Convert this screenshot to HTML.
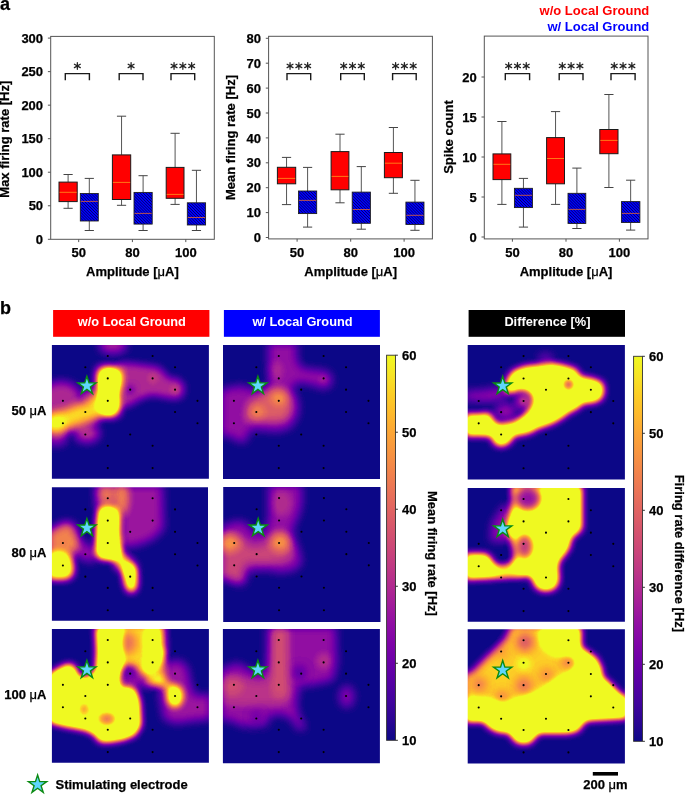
<!DOCTYPE html><html><head><meta charset="utf-8"><style>html,body{margin:0;padding:0;background:#fff;}svg{display:block;will-change:transform;font-family:'Liberation Sans', sans-serif;}</style></head><body><svg width="685" height="795" viewBox="0 0 685 795"><defs><pattern id="hatch" patternUnits="userSpaceOnUse" width="2.06" height="2.06" patternTransform="rotate(45)"><rect width="2.06" height="2.06" fill="#0000ff"/><rect y="0" width="2.06" height="0.62" fill="#000050"/></pattern><filter id="cm" x="-30" y="-30" width="260" height="220" filterUnits="userSpaceOnUse" color-interpolation-filters="sRGB"><feComponentTransfer><feFuncR type="table" tableValues="0.05 0.13 0.2 0.25 0.31 0.36 0.42 0.47 0.52 0.56 0.61 0.65 0.69 0.73 0.76 0.8 0.83 0.86 0.88 0.91 0.93 0.95 0.97 0.98 0.99 0.99 0.99 0.99 0.98 0.96 0.94 0.94 0.94 0.94 0.94 0.94 0.94 0.94 0.94 0.94 0.94 0.94 0.94 0.94 0.94 0.94 0.94 0.94 0.94 0.94 0.94 0.94 0.94 0.94 0.94 0.94 0.94 0.94 0.94 0.94 0.94 0.94 0.94 0.94 0.94 0.94 0.94 0.94 0.94 0.94 0.94 0.94 0.94 0.94 0.94 0.94 0.94 0.94 0.94 0.94 0.94 0.94 0.94 0.94 0.94 0.94 0.94 0.94 0.94 0.94 0.94"/><feFuncG type="table" tableValues="0.03 0.02 0.02 0.01 0.01 0 0 0 0.02 0.05 0.09 0.13 0.17 0.2 0.24 0.28 0.32 0.36 0.39 0.43 0.47 0.52 0.56 0.61 0.65 0.7 0.75 0.81 0.86 0.92 0.98 0.98 0.98 0.98 0.98 0.98 0.98 0.98 0.98 0.98 0.98 0.98 0.98 0.98 0.98 0.98 0.98 0.98 0.98 0.98 0.98 0.98 0.98 0.98 0.98 0.98 0.98 0.98 0.98 0.98 0.98 0.98 0.98 0.98 0.98 0.98 0.98 0.98 0.98 0.98 0.98 0.98 0.98 0.98 0.98 0.98 0.98 0.98 0.98 0.98 0.98 0.98 0.98 0.98 0.98 0.98 0.98 0.98 0.98 0.98 0.98"/><feFuncB type="table" tableValues="0.53 0.56 0.59 0.62 0.64 0.65 0.66 0.66 0.65 0.64 0.62 0.6 0.56 0.54 0.5 0.47 0.44 0.41 0.38 0.35 0.33 0.3 0.27 0.24 0.21 0.18 0.16 0.15 0.14 0.15 0.13 0.13 0.13 0.13 0.13 0.13 0.13 0.13 0.13 0.13 0.13 0.13 0.13 0.13 0.13 0.13 0.13 0.13 0.13 0.13 0.13 0.13 0.13 0.13 0.13 0.13 0.13 0.13 0.13 0.13 0.13 0.13 0.13 0.13 0.13 0.13 0.13 0.13 0.13 0.13 0.13 0.13 0.13 0.13 0.13 0.13 0.13 0.13 0.13 0.13 0.13 0.13 0.13 0.13 0.13 0.13 0.13 0.13 0.13 0.13 0.13"/><feFuncA type="table" tableValues="1 1"/></feComponentTransfer></filter><clipPath id="cp_r1c1"><rect x="0" y="0" width="157" height="133.8"/></clipPath><clipPath id="cp_r2c1"><rect x="0" y="0" width="156.1" height="133.6"/></clipPath><clipPath id="cp_r3c1"><rect x="0" y="0" width="157" height="133.7"/></clipPath><clipPath id="cp_r1c2"><rect x="0" y="0" width="157" height="133.9"/></clipPath><clipPath id="cp_r2c2"><rect x="0" y="0" width="157.3" height="134.8"/></clipPath><clipPath id="cp_r3c2"><rect x="0" y="0" width="157" height="134.2"/></clipPath><clipPath id="cp_r1c3"><rect x="0" y="0" width="157.2" height="134.3"/></clipPath><clipPath id="cp_r2c3"><rect x="0" y="0" width="157.2" height="133.7"/></clipPath><clipPath id="cp_r3c3"><rect x="0" y="0" width="157.2" height="134.3"/></clipPath><filter id="bl3" x="-60" y="-60" width="300" height="260" filterUnits="userSpaceOnUse" color-interpolation-filters="sRGB"><feGaussianBlur stdDeviation="3"/></filter><filter id="bl3_5" x="-60" y="-60" width="300" height="260" filterUnits="userSpaceOnUse" color-interpolation-filters="sRGB"><feGaussianBlur stdDeviation="3.5"/></filter><filter id="bl4" x="-60" y="-60" width="300" height="260" filterUnits="userSpaceOnUse" color-interpolation-filters="sRGB"><feGaussianBlur stdDeviation="4"/></filter><filter id="bl4_5" x="-60" y="-60" width="300" height="260" filterUnits="userSpaceOnUse" color-interpolation-filters="sRGB"><feGaussianBlur stdDeviation="4.5"/></filter><filter id="bl5" x="-60" y="-60" width="300" height="260" filterUnits="userSpaceOnUse" color-interpolation-filters="sRGB"><feGaussianBlur stdDeviation="5"/></filter><filter id="bl6" x="-60" y="-60" width="300" height="260" filterUnits="userSpaceOnUse" color-interpolation-filters="sRGB"><feGaussianBlur stdDeviation="6"/></filter><linearGradient id="cbg" x1="0" y1="0" x2="0" y2="1"><stop offset="0" stop-color="rgb(240,249,33)"/><stop offset="0.05" stop-color="rgb(247,228,37)"/><stop offset="0.1" stop-color="rgb(252,206,37)"/><stop offset="0.15" stop-color="rgb(254,186,44)"/><stop offset="0.2" stop-color="rgb(252,166,54)"/><stop offset="0.25" stop-color="rgb(248,149,64)"/><stop offset="0.3" stop-color="rgb(242,132,75)"/><stop offset="0.35" stop-color="rgb(234,116,87)"/><stop offset="0.4" stop-color="rgb(225,100,98)"/><stop offset="0.45" stop-color="rgb(214,85,109)"/><stop offset="0.5" stop-color="rgb(204,71,120)"/><stop offset="0.55" stop-color="rgb(191,57,132)"/><stop offset="0.6" stop-color="rgb(177,42,144)"/><stop offset="0.65" stop-color="rgb(161,27,155)"/><stop offset="0.7" stop-color="rgb(143,13,164)"/><stop offset="0.75" stop-color="rgb(126,3,168)"/><stop offset="0.8" stop-color="rgb(106,0,168)"/><stop offset="0.85" stop-color="rgb(86,1,164)"/><stop offset="0.9" stop-color="rgb(65,4,157)"/><stop offset="0.95" stop-color="rgb(42,5,147)"/><stop offset="1" stop-color="rgb(13,8,135)"/></linearGradient></defs><text x="0.1" y="10.2" font-size="18" font-weight="bold" text-anchor="start" fill="#000" stroke="#000" stroke-width="0.25">a</text>
<line x1="68.1" y1="174.5" x2="68.1" y2="182.1" stroke="#555" stroke-width="1"/>
<line x1="68.1" y1="201.6" x2="68.1" y2="208.3" stroke="#555" stroke-width="1"/>
<line x1="63.5" y1="174.5" x2="72.7" y2="174.5" stroke="#444" stroke-width="1"/>
<line x1="63.5" y1="208.3" x2="72.7" y2="208.3" stroke="#444" stroke-width="1"/>
<rect x="59" y="182.1" width="18.2" height="19.5" fill="#ff0000" stroke="#1a1a1a" stroke-width="1"/>
<line x1="59.5" y1="192.3" x2="76.7" y2="192.3" stroke="#ff8c1a" stroke-width="0.85"/>
<line x1="89.3" y1="178.4" x2="89.3" y2="193.5" stroke="#555" stroke-width="1"/>
<line x1="89.3" y1="221" x2="89.3" y2="230.5" stroke="#555" stroke-width="1"/>
<line x1="84.7" y1="178.4" x2="93.9" y2="178.4" stroke="#444" stroke-width="1"/>
<line x1="84.7" y1="230.5" x2="93.9" y2="230.5" stroke="#444" stroke-width="1"/>
<rect x="80.3" y="193.5" width="18" height="27.5" fill="url(#hatch)" stroke="#1a1a1a" stroke-width="0.85"/>
<line x1="80.8" y1="201.4" x2="97.8" y2="201.4" stroke="#d8603c" stroke-width="0.85"/>
<line x1="121.55" y1="116.2" x2="121.55" y2="154.9" stroke="#555" stroke-width="1"/>
<line x1="121.55" y1="199.5" x2="121.55" y2="205.3" stroke="#555" stroke-width="1"/>
<line x1="116.95" y1="116.2" x2="126.15" y2="116.2" stroke="#444" stroke-width="1"/>
<line x1="116.95" y1="205.3" x2="126.15" y2="205.3" stroke="#444" stroke-width="1"/>
<rect x="112.4" y="154.9" width="18.3" height="44.6" fill="#ff0000" stroke="#1a1a1a" stroke-width="1"/>
<line x1="112.9" y1="182.4" x2="130.2" y2="182.4" stroke="#ff8c1a" stroke-width="0.85"/>
<line x1="143.1" y1="175.7" x2="143.1" y2="192.4" stroke="#555" stroke-width="1"/>
<line x1="143.1" y1="224.1" x2="143.1" y2="230.5" stroke="#555" stroke-width="1"/>
<line x1="138.5" y1="175.7" x2="147.7" y2="175.7" stroke="#444" stroke-width="1"/>
<line x1="138.5" y1="230.5" x2="147.7" y2="230.5" stroke="#444" stroke-width="1"/>
<rect x="134" y="192.4" width="18.2" height="31.7" fill="url(#hatch)" stroke="#1a1a1a" stroke-width="0.85"/>
<line x1="134.5" y1="213.4" x2="151.7" y2="213.4" stroke="#d8603c" stroke-width="0.85"/>
<line x1="175.1" y1="133.3" x2="175.1" y2="167.4" stroke="#555" stroke-width="1"/>
<line x1="175.1" y1="198.3" x2="175.1" y2="204.4" stroke="#555" stroke-width="1"/>
<line x1="170.5" y1="133.3" x2="179.7" y2="133.3" stroke="#444" stroke-width="1"/>
<line x1="170.5" y1="204.4" x2="179.7" y2="204.4" stroke="#444" stroke-width="1"/>
<rect x="166.2" y="167.4" width="17.8" height="30.9" fill="#ff0000" stroke="#1a1a1a" stroke-width="1"/>
<line x1="166.7" y1="194.4" x2="183.5" y2="194.4" stroke="#ff8c1a" stroke-width="0.85"/>
<line x1="196.45" y1="170.3" x2="196.45" y2="202.8" stroke="#555" stroke-width="1"/>
<line x1="196.45" y1="225" x2="196.45" y2="230.5" stroke="#555" stroke-width="1"/>
<line x1="191.85" y1="170.3" x2="201.05" y2="170.3" stroke="#444" stroke-width="1"/>
<line x1="191.85" y1="230.5" x2="201.05" y2="230.5" stroke="#444" stroke-width="1"/>
<rect x="187.3" y="202.8" width="18.3" height="22.2" fill="url(#hatch)" stroke="#1a1a1a" stroke-width="0.85"/>
<line x1="187.8" y1="217.5" x2="205.1" y2="217.5" stroke="#d8603c" stroke-width="0.85"/>
<rect x="50.7" y="36.4" width="163.6" height="202.9" fill="none" stroke="#555" stroke-width="1"/>
<line x1="47.9" y1="239.3" x2="50.7" y2="239.3" stroke="#555" stroke-width="1"/>
<text x="43.1" y="243.9" font-size="13" font-weight="bold" text-anchor="end" fill="#000" stroke="#000" stroke-width="0.25">0</text>
<line x1="47.9" y1="205.77" x2="50.7" y2="205.77" stroke="#555" stroke-width="1"/>
<text x="43.1" y="210.37" font-size="13" font-weight="bold" text-anchor="end" fill="#000" stroke="#000" stroke-width="0.25">50</text>
<line x1="47.9" y1="172.23" x2="50.7" y2="172.23" stroke="#555" stroke-width="1"/>
<text x="43.1" y="176.83" font-size="13" font-weight="bold" text-anchor="end" fill="#000" stroke="#000" stroke-width="0.25">100</text>
<line x1="47.9" y1="138.7" x2="50.7" y2="138.7" stroke="#555" stroke-width="1"/>
<text x="43.1" y="143.3" font-size="13" font-weight="bold" text-anchor="end" fill="#000" stroke="#000" stroke-width="0.25">150</text>
<line x1="47.9" y1="105.17" x2="50.7" y2="105.17" stroke="#555" stroke-width="1"/>
<text x="43.1" y="109.77" font-size="13" font-weight="bold" text-anchor="end" fill="#000" stroke="#000" stroke-width="0.25">200</text>
<line x1="47.9" y1="71.63" x2="50.7" y2="71.63" stroke="#555" stroke-width="1"/>
<text x="43.1" y="76.23" font-size="13" font-weight="bold" text-anchor="end" fill="#000" stroke="#000" stroke-width="0.25">250</text>
<line x1="47.9" y1="38.1" x2="50.7" y2="38.1" stroke="#555" stroke-width="1"/>
<text x="43.1" y="42.7" font-size="13" font-weight="bold" text-anchor="end" fill="#000" stroke="#000" stroke-width="0.25">300</text>
<line x1="78.7" y1="239.3" x2="78.7" y2="242.1" stroke="#555" stroke-width="1"/>
<text x="78.7" y="257.2" font-size="13" font-weight="bold" text-anchor="middle" fill="#000" stroke="#000" stroke-width="0.25">50</text>
<line x1="132.4" y1="239.3" x2="132.4" y2="242.1" stroke="#555" stroke-width="1"/>
<text x="132.4" y="257.2" font-size="13" font-weight="bold" text-anchor="middle" fill="#000" stroke="#000" stroke-width="0.25">80</text>
<line x1="185.8" y1="239.3" x2="185.8" y2="242.1" stroke="#555" stroke-width="1"/>
<text x="185.8" y="257.2" font-size="13" font-weight="bold" text-anchor="middle" fill="#000" stroke="#000" stroke-width="0.25">100</text>
<text x="132.4" y="275.5" font-size="13" font-weight="bold" text-anchor="middle" fill="#000" stroke="#000" stroke-width="0.25">Amplitude [<tspan font-weight="normal">&#956;</tspan>A]</text>
<text x="9.4" y="139.2" font-size="13" font-weight="bold" text-anchor="middle" fill="#000" stroke="#000" stroke-width="0.25" transform="rotate(-90 9.4 139.2)">Max firing rate [Hz]</text>
<path d="M65.3 80.3V73.6H89.4V80.3" fill="none" stroke="#1a1a1a" stroke-width="1.4"/>
<path d="M77.35 62.5L77.35 69.3M74.41 64.2L80.29 67.6M74.41 67.6L80.29 64.2" stroke="#222" stroke-width="1.25" stroke-linecap="round"/>
<path d="M119.2 80.3V73.6H143V80.3" fill="none" stroke="#1a1a1a" stroke-width="1.4"/>
<path d="M131.1 62.5L131.1 69.3M128.16 64.2L134.04 67.6M128.16 67.6L134.04 64.2" stroke="#222" stroke-width="1.25" stroke-linecap="round"/>
<path d="M171 80.3V73.6H194.7V80.3" fill="none" stroke="#1a1a1a" stroke-width="1.4"/>
<path d="M174.05 62.5L174.05 69.3M171.11 64.2L176.99 67.6M171.11 67.6L176.99 64.2" stroke="#222" stroke-width="1.25" stroke-linecap="round"/>
<path d="M182.85 62.5L182.85 69.3M179.91 64.2L185.79 67.6M179.91 67.6L185.79 64.2" stroke="#222" stroke-width="1.25" stroke-linecap="round"/>
<path d="M191.65 62.5L191.65 69.3M188.71 64.2L194.59 67.6M188.71 67.6L194.59 64.2" stroke="#222" stroke-width="1.25" stroke-linecap="round"/>
<line x1="286.55" y1="157.4" x2="286.55" y2="167.3" stroke="#555" stroke-width="1"/>
<line x1="286.55" y1="183.8" x2="286.55" y2="204.6" stroke="#555" stroke-width="1"/>
<line x1="281.95" y1="157.4" x2="291.15" y2="157.4" stroke="#444" stroke-width="1"/>
<line x1="281.95" y1="204.6" x2="291.15" y2="204.6" stroke="#444" stroke-width="1"/>
<rect x="277.4" y="167.3" width="18.3" height="16.5" fill="#ff0000" stroke="#1a1a1a" stroke-width="1"/>
<line x1="277.9" y1="178.4" x2="295.2" y2="178.4" stroke="#ff8c1a" stroke-width="0.85"/>
<line x1="307.6" y1="167.4" x2="307.6" y2="191" stroke="#555" stroke-width="1"/>
<line x1="307.6" y1="213.6" x2="307.6" y2="227.1" stroke="#555" stroke-width="1"/>
<line x1="303" y1="167.4" x2="312.2" y2="167.4" stroke="#444" stroke-width="1"/>
<line x1="303" y1="227.1" x2="312.2" y2="227.1" stroke="#444" stroke-width="1"/>
<rect x="298.5" y="191" width="18.2" height="22.6" fill="url(#hatch)" stroke="#1a1a1a" stroke-width="0.85"/>
<line x1="299" y1="200.4" x2="316.2" y2="200.4" stroke="#d8603c" stroke-width="0.85"/>
<line x1="340" y1="134.2" x2="340" y2="151.6" stroke="#555" stroke-width="1"/>
<line x1="340" y1="189.8" x2="340" y2="202.8" stroke="#555" stroke-width="1"/>
<line x1="335.4" y1="134.2" x2="344.6" y2="134.2" stroke="#444" stroke-width="1"/>
<line x1="335.4" y1="202.8" x2="344.6" y2="202.8" stroke="#444" stroke-width="1"/>
<rect x="331.1" y="151.6" width="17.8" height="38.2" fill="#ff0000" stroke="#1a1a1a" stroke-width="1"/>
<line x1="331.6" y1="176.4" x2="348.4" y2="176.4" stroke="#ff8c1a" stroke-width="0.85"/>
<line x1="361.3" y1="166.6" x2="361.3" y2="192.1" stroke="#555" stroke-width="1"/>
<line x1="361.3" y1="223.3" x2="361.3" y2="229.2" stroke="#555" stroke-width="1"/>
<line x1="356.7" y1="166.6" x2="365.9" y2="166.6" stroke="#444" stroke-width="1"/>
<line x1="356.7" y1="229.2" x2="365.9" y2="229.2" stroke="#444" stroke-width="1"/>
<rect x="352.2" y="192.1" width="18.2" height="31.2" fill="url(#hatch)" stroke="#1a1a1a" stroke-width="0.85"/>
<line x1="352.7" y1="209.5" x2="369.9" y2="209.5" stroke="#d8603c" stroke-width="0.85"/>
<line x1="393.4" y1="127.5" x2="393.4" y2="152.5" stroke="#555" stroke-width="1"/>
<line x1="393.4" y1="177.7" x2="393.4" y2="193.3" stroke="#555" stroke-width="1"/>
<line x1="388.8" y1="127.5" x2="398" y2="127.5" stroke="#444" stroke-width="1"/>
<line x1="388.8" y1="193.3" x2="398" y2="193.3" stroke="#444" stroke-width="1"/>
<rect x="384.4" y="152.5" width="18" height="25.2" fill="#ff0000" stroke="#1a1a1a" stroke-width="1"/>
<line x1="384.9" y1="163.2" x2="401.9" y2="163.2" stroke="#ff8c1a" stroke-width="0.85"/>
<line x1="414.95" y1="180.3" x2="414.95" y2="202.1" stroke="#555" stroke-width="1"/>
<line x1="414.95" y1="224.5" x2="414.95" y2="230.3" stroke="#555" stroke-width="1"/>
<line x1="410.35" y1="180.3" x2="419.55" y2="180.3" stroke="#444" stroke-width="1"/>
<line x1="410.35" y1="230.3" x2="419.55" y2="230.3" stroke="#444" stroke-width="1"/>
<rect x="405.9" y="202.1" width="18.1" height="22.4" fill="url(#hatch)" stroke="#1a1a1a" stroke-width="0.85"/>
<line x1="406.4" y1="215.3" x2="423.5" y2="215.3" stroke="#d8603c" stroke-width="0.85"/>
<rect x="268.6" y="36.3" width="163.8" height="202.6" fill="none" stroke="#555" stroke-width="1"/>
<line x1="265.8" y1="237.5" x2="268.6" y2="237.5" stroke="#555" stroke-width="1"/>
<text x="261" y="242.1" font-size="13" font-weight="bold" text-anchor="end" fill="#000" stroke="#000" stroke-width="0.25">0</text>
<line x1="265.8" y1="212.6" x2="268.6" y2="212.6" stroke="#555" stroke-width="1"/>
<text x="261" y="217.2" font-size="13" font-weight="bold" text-anchor="end" fill="#000" stroke="#000" stroke-width="0.25">10</text>
<line x1="265.8" y1="187.7" x2="268.6" y2="187.7" stroke="#555" stroke-width="1"/>
<text x="261" y="192.3" font-size="13" font-weight="bold" text-anchor="end" fill="#000" stroke="#000" stroke-width="0.25">20</text>
<line x1="265.8" y1="162.8" x2="268.6" y2="162.8" stroke="#555" stroke-width="1"/>
<text x="261" y="167.4" font-size="13" font-weight="bold" text-anchor="end" fill="#000" stroke="#000" stroke-width="0.25">30</text>
<line x1="265.8" y1="137.9" x2="268.6" y2="137.9" stroke="#555" stroke-width="1"/>
<text x="261" y="142.5" font-size="13" font-weight="bold" text-anchor="end" fill="#000" stroke="#000" stroke-width="0.25">40</text>
<line x1="265.8" y1="113" x2="268.6" y2="113" stroke="#555" stroke-width="1"/>
<text x="261" y="117.6" font-size="13" font-weight="bold" text-anchor="end" fill="#000" stroke="#000" stroke-width="0.25">50</text>
<line x1="265.8" y1="88.1" x2="268.6" y2="88.1" stroke="#555" stroke-width="1"/>
<text x="261" y="92.7" font-size="13" font-weight="bold" text-anchor="end" fill="#000" stroke="#000" stroke-width="0.25">60</text>
<line x1="265.8" y1="63.2" x2="268.6" y2="63.2" stroke="#555" stroke-width="1"/>
<text x="261" y="67.8" font-size="13" font-weight="bold" text-anchor="end" fill="#000" stroke="#000" stroke-width="0.25">70</text>
<line x1="265.8" y1="38.3" x2="268.6" y2="38.3" stroke="#555" stroke-width="1"/>
<text x="261" y="42.9" font-size="13" font-weight="bold" text-anchor="end" fill="#000" stroke="#000" stroke-width="0.25">80</text>
<line x1="297.1" y1="238.9" x2="297.1" y2="241.7" stroke="#555" stroke-width="1"/>
<text x="297.1" y="257.2" font-size="13" font-weight="bold" text-anchor="middle" fill="#000" stroke="#000" stroke-width="0.25">50</text>
<line x1="350.7" y1="238.9" x2="350.7" y2="241.7" stroke="#555" stroke-width="1"/>
<text x="350.7" y="257.2" font-size="13" font-weight="bold" text-anchor="middle" fill="#000" stroke="#000" stroke-width="0.25">80</text>
<line x1="404.1" y1="238.9" x2="404.1" y2="241.7" stroke="#555" stroke-width="1"/>
<text x="404.1" y="257.2" font-size="13" font-weight="bold" text-anchor="middle" fill="#000" stroke="#000" stroke-width="0.25">100</text>
<text x="350.7" y="275.5" font-size="13" font-weight="bold" text-anchor="middle" fill="#000" stroke="#000" stroke-width="0.25">Amplitude [<tspan font-weight="normal">&#956;</tspan>A]</text>
<text x="234.8" y="137.5" font-size="13" font-weight="bold" text-anchor="middle" fill="#000" stroke="#000" stroke-width="0.25" transform="rotate(-90 234.8 137.5)">Mean firing rate [Hz]</text>
<path d="M287 80.3V73.6H310.7V80.3" fill="none" stroke="#1a1a1a" stroke-width="1.4"/>
<path d="M290.05 62.5L290.05 69.3M287.11 64.2L292.99 67.6M287.11 67.6L292.99 64.2" stroke="#222" stroke-width="1.25" stroke-linecap="round"/>
<path d="M298.85 62.5L298.85 69.3M295.91 64.2L301.79 67.6M295.91 67.6L301.79 64.2" stroke="#222" stroke-width="1.25" stroke-linecap="round"/>
<path d="M307.65 62.5L307.65 69.3M304.71 64.2L310.59 67.6M304.71 67.6L310.59 64.2" stroke="#222" stroke-width="1.25" stroke-linecap="round"/>
<path d="M340.7 80.3V73.6H364.3V80.3" fill="none" stroke="#1a1a1a" stroke-width="1.4"/>
<path d="M343.7 62.5L343.7 69.3M340.76 64.2L346.64 67.6M340.76 67.6L346.64 64.2" stroke="#222" stroke-width="1.25" stroke-linecap="round"/>
<path d="M352.5 62.5L352.5 69.3M349.56 64.2L355.44 67.6M349.56 67.6L355.44 64.2" stroke="#222" stroke-width="1.25" stroke-linecap="round"/>
<path d="M361.3 62.5L361.3 69.3M358.36 64.2L364.24 67.6M358.36 67.6L364.24 64.2" stroke="#222" stroke-width="1.25" stroke-linecap="round"/>
<path d="M392.6 80.3V73.6H416.2V80.3" fill="none" stroke="#1a1a1a" stroke-width="1.4"/>
<path d="M395.6 62.5L395.6 69.3M392.66 64.2L398.54 67.6M392.66 67.6L398.54 64.2" stroke="#222" stroke-width="1.25" stroke-linecap="round"/>
<path d="M404.4 62.5L404.4 69.3M401.46 64.2L407.34 67.6M401.46 67.6L407.34 64.2" stroke="#222" stroke-width="1.25" stroke-linecap="round"/>
<path d="M413.2 62.5L413.2 69.3M410.26 64.2L416.14 67.6M410.26 67.6L416.14 64.2" stroke="#222" stroke-width="1.25" stroke-linecap="round"/>
<line x1="501.9" y1="121.5" x2="501.9" y2="153.9" stroke="#555" stroke-width="1"/>
<line x1="501.9" y1="179.6" x2="501.9" y2="204.4" stroke="#555" stroke-width="1"/>
<line x1="497.3" y1="121.5" x2="506.5" y2="121.5" stroke="#444" stroke-width="1"/>
<line x1="497.3" y1="204.4" x2="506.5" y2="204.4" stroke="#444" stroke-width="1"/>
<rect x="493" y="153.9" width="17.8" height="25.7" fill="#ff0000" stroke="#1a1a1a" stroke-width="1"/>
<line x1="493.5" y1="164.3" x2="510.3" y2="164.3" stroke="#ff8c1a" stroke-width="0.85"/>
<line x1="523.45" y1="178.4" x2="523.45" y2="188.3" stroke="#555" stroke-width="1"/>
<line x1="523.45" y1="207.6" x2="523.45" y2="227.1" stroke="#555" stroke-width="1"/>
<line x1="518.85" y1="178.4" x2="528.05" y2="178.4" stroke="#444" stroke-width="1"/>
<line x1="518.85" y1="227.1" x2="528.05" y2="227.1" stroke="#444" stroke-width="1"/>
<rect x="514.4" y="188.3" width="18.1" height="19.3" fill="url(#hatch)" stroke="#1a1a1a" stroke-width="0.85"/>
<line x1="514.9" y1="195.3" x2="532" y2="195.3" stroke="#d8603c" stroke-width="0.85"/>
<line x1="555.55" y1="111.6" x2="555.55" y2="137.6" stroke="#555" stroke-width="1"/>
<line x1="555.55" y1="183.8" x2="555.55" y2="204.4" stroke="#555" stroke-width="1"/>
<line x1="550.95" y1="111.6" x2="560.15" y2="111.6" stroke="#444" stroke-width="1"/>
<line x1="550.95" y1="204.4" x2="560.15" y2="204.4" stroke="#444" stroke-width="1"/>
<rect x="546.6" y="137.6" width="17.9" height="46.2" fill="#ff0000" stroke="#1a1a1a" stroke-width="1"/>
<line x1="547.1" y1="158.5" x2="564" y2="158.5" stroke="#ff8c1a" stroke-width="0.85"/>
<line x1="576.9" y1="168.1" x2="576.9" y2="193.3" stroke="#555" stroke-width="1"/>
<line x1="576.9" y1="223.5" x2="576.9" y2="228.5" stroke="#555" stroke-width="1"/>
<line x1="572.3" y1="168.1" x2="581.5" y2="168.1" stroke="#444" stroke-width="1"/>
<line x1="572.3" y1="228.5" x2="581.5" y2="228.5" stroke="#444" stroke-width="1"/>
<rect x="568" y="193.3" width="17.8" height="30.2" fill="url(#hatch)" stroke="#1a1a1a" stroke-width="0.85"/>
<line x1="568.5" y1="209.4" x2="585.3" y2="209.4" stroke="#d8603c" stroke-width="0.85"/>
<line x1="608.9" y1="94.5" x2="608.9" y2="129.5" stroke="#555" stroke-width="1"/>
<line x1="608.9" y1="153.7" x2="608.9" y2="187.5" stroke="#555" stroke-width="1"/>
<line x1="604.3" y1="94.5" x2="613.5" y2="94.5" stroke="#444" stroke-width="1"/>
<line x1="604.3" y1="187.5" x2="613.5" y2="187.5" stroke="#444" stroke-width="1"/>
<rect x="599.8" y="129.5" width="18.2" height="24.2" fill="#ff0000" stroke="#1a1a1a" stroke-width="1"/>
<line x1="600.3" y1="140.4" x2="617.5" y2="140.4" stroke="#ff8c1a" stroke-width="0.85"/>
<line x1="630.65" y1="180.2" x2="630.65" y2="201.6" stroke="#555" stroke-width="1"/>
<line x1="630.65" y1="222.5" x2="630.65" y2="230.1" stroke="#555" stroke-width="1"/>
<line x1="626.05" y1="180.2" x2="635.25" y2="180.2" stroke="#444" stroke-width="1"/>
<line x1="626.05" y1="230.1" x2="635.25" y2="230.1" stroke="#444" stroke-width="1"/>
<rect x="621.4" y="201.6" width="18.5" height="20.9" fill="url(#hatch)" stroke="#1a1a1a" stroke-width="0.85"/>
<line x1="621.9" y1="213.4" x2="639.4" y2="213.4" stroke="#d8603c" stroke-width="0.85"/>
<rect x="484.3" y="36.1" width="163.7" height="202.8" fill="none" stroke="#555" stroke-width="1"/>
<line x1="481.5" y1="237" x2="484.3" y2="237" stroke="#555" stroke-width="1"/>
<text x="476.7" y="241.6" font-size="13" font-weight="bold" text-anchor="end" fill="#000" stroke="#000" stroke-width="0.25">0</text>
<line x1="481.5" y1="197" x2="484.3" y2="197" stroke="#555" stroke-width="1"/>
<text x="476.7" y="201.6" font-size="13" font-weight="bold" text-anchor="end" fill="#000" stroke="#000" stroke-width="0.25">5</text>
<line x1="481.5" y1="157" x2="484.3" y2="157" stroke="#555" stroke-width="1"/>
<text x="476.7" y="161.6" font-size="13" font-weight="bold" text-anchor="end" fill="#000" stroke="#000" stroke-width="0.25">10</text>
<line x1="481.5" y1="117" x2="484.3" y2="117" stroke="#555" stroke-width="1"/>
<text x="476.7" y="121.6" font-size="13" font-weight="bold" text-anchor="end" fill="#000" stroke="#000" stroke-width="0.25">15</text>
<line x1="481.5" y1="77" x2="484.3" y2="77" stroke="#555" stroke-width="1"/>
<text x="476.7" y="81.6" font-size="13" font-weight="bold" text-anchor="end" fill="#000" stroke="#000" stroke-width="0.25">20</text>
<line x1="512.4" y1="238.9" x2="512.4" y2="241.7" stroke="#555" stroke-width="1"/>
<text x="512.4" y="257.2" font-size="13" font-weight="bold" text-anchor="middle" fill="#000" stroke="#000" stroke-width="0.25">50</text>
<line x1="566" y1="238.9" x2="566" y2="241.7" stroke="#555" stroke-width="1"/>
<text x="566" y="257.2" font-size="13" font-weight="bold" text-anchor="middle" fill="#000" stroke="#000" stroke-width="0.25">80</text>
<line x1="619.4" y1="238.9" x2="619.4" y2="241.7" stroke="#555" stroke-width="1"/>
<text x="619.4" y="257.2" font-size="13" font-weight="bold" text-anchor="middle" fill="#000" stroke="#000" stroke-width="0.25">100</text>
<text x="566" y="275.5" font-size="13" font-weight="bold" text-anchor="middle" fill="#000" stroke="#000" stroke-width="0.25">Amplitude [<tspan font-weight="normal">&#956;</tspan>A]</text>
<text x="453" y="137" font-size="13" font-weight="bold" text-anchor="middle" fill="#000" stroke="#000" stroke-width="0.25" transform="rotate(-90 453 137)">Spike count</text>
<path d="M505.3 80.3V73.6H529.6V80.3" fill="none" stroke="#1a1a1a" stroke-width="1.4"/>
<path d="M508.65 62.5L508.65 69.3M505.71 64.2L511.59 67.6M505.71 67.6L511.59 64.2" stroke="#222" stroke-width="1.25" stroke-linecap="round"/>
<path d="M517.45 62.5L517.45 69.3M514.51 64.2L520.39 67.6M514.51 67.6L520.39 64.2" stroke="#222" stroke-width="1.25" stroke-linecap="round"/>
<path d="M526.25 62.5L526.25 69.3M523.31 64.2L529.19 67.6M523.31 67.6L529.19 64.2" stroke="#222" stroke-width="1.25" stroke-linecap="round"/>
<path d="M559.2 80.3V73.6H583V80.3" fill="none" stroke="#1a1a1a" stroke-width="1.4"/>
<path d="M562.3 62.5L562.3 69.3M559.36 64.2L565.24 67.6M559.36 67.6L565.24 64.2" stroke="#222" stroke-width="1.25" stroke-linecap="round"/>
<path d="M571.1 62.5L571.1 69.3M568.16 64.2L574.04 67.6M568.16 67.6L574.04 64.2" stroke="#222" stroke-width="1.25" stroke-linecap="round"/>
<path d="M579.9 62.5L579.9 69.3M576.96 64.2L582.84 67.6M576.96 67.6L582.84 64.2" stroke="#222" stroke-width="1.25" stroke-linecap="round"/>
<path d="M611 80.3V73.6H635.1V80.3" fill="none" stroke="#1a1a1a" stroke-width="1.4"/>
<path d="M614.25 62.5L614.25 69.3M611.31 64.2L617.19 67.6M611.31 67.6L617.19 64.2" stroke="#222" stroke-width="1.25" stroke-linecap="round"/>
<path d="M623.05 62.5L623.05 69.3M620.11 64.2L625.99 67.6M620.11 67.6L625.99 64.2" stroke="#222" stroke-width="1.25" stroke-linecap="round"/>
<path d="M631.85 62.5L631.85 69.3M628.91 64.2L634.79 67.6M628.91 67.6L634.79 64.2" stroke="#222" stroke-width="1.25" stroke-linecap="round"/>
<text x="649.3" y="15" font-size="13" font-weight="bold" text-anchor="end" fill="#ff0000" stroke="#ff0000" stroke-width="0">w/o Local Ground</text>
<text x="649.3" y="31.2" font-size="13" font-weight="bold" text-anchor="end" fill="#0000ff" stroke="#0000ff" stroke-width="0">w/ Local Ground</text>
<text x="0" y="314.3" font-size="18" font-weight="bold" text-anchor="start" fill="#000" stroke="#000" stroke-width="0.25">b</text>
<rect x="53.1" y="310" width="156.3" height="26.8" fill="#ff0000"/>
<text x="131.85" y="326.3" font-size="12.8" font-weight="bold" text-anchor="middle" fill="#fff" stroke="#fff" stroke-width="0">w/o Local Ground</text>
<rect x="223.9" y="310" width="156" height="26.8" fill="#0000ff"/>
<text x="302.5" y="326.3" font-size="12.8" font-weight="bold" text-anchor="middle" fill="#fff" stroke="#fff" stroke-width="0">w/ Local Ground</text>
<rect x="468.6" y="310" width="156.4" height="26.8" fill="#000000"/>
<text x="547.4" y="326.3" font-size="12.8" font-weight="bold" text-anchor="middle" fill="#fff" stroke="#fff" stroke-width="0">Difference [%]</text>
<g transform="translate(51.9 345)"><g clip-path="url(#cp_r1c1)"><g filter="url(#cm)"><rect x="-30" y="-30" width="217" height="193.8" fill="#000"/><ellipse cx="61" cy="0" rx="13" ry="8" fill="#fff" fill-opacity="0.12" filter="url(#bl4)"/><polygon points="66,18 80,18.5 95,20.5 106,22 112,27 116,33 126,34 132,40 131,51 123,54 112,52 100,50 88,54 80,59 70,63" fill="#fff" fill-opacity="0.13" filter="url(#bl3_5)"/><ellipse cx="101" cy="33.5" rx="5" ry="5" fill="#fff" fill-opacity="0.04" filter="url(#bl3)"/><ellipse cx="123.5" cy="44.5" rx="5" ry="5" fill="#fff" fill-opacity="0.04" filter="url(#bl3)"/><ellipse cx="78.5" cy="45" rx="4" ry="4.5" fill="#000" fill-opacity="0.5" filter="url(#bl3)"/><ellipse cx="9" cy="53" rx="20" ry="16" fill="#fff" fill-opacity="0.13" filter="url(#bl4_5)"/><ellipse cx="38" cy="50" rx="8" ry="7" fill="#fff" fill-opacity="0.1" filter="url(#bl3)"/><ellipse cx="35" cy="88" rx="12" ry="9" fill="#fff" fill-opacity="0.14" filter="url(#bl4)"/><ellipse cx="4" cy="93" rx="11" ry="7" fill="#fff" fill-opacity="0.1" filter="url(#bl4)"/><polygon points="46,51 38,54 31.4,57 25,60 17.6,64.4 10,66.6 -8,67.8 -8,87.5 10,88.8 18.9,83.8 25.2,81.5 31.4,78.7 41.5,76.2 47.8,75" fill="#fff" fill-opacity="0.31" filter="url(#bl4_5)"/><ellipse cx="4" cy="77" rx="10" ry="7" fill="#fff" fill-opacity="0.08" filter="url(#bl4)"/><polygon points="48.5,24.5 66,24.5 67.3,28 67.3,38 65,46 65,52 66,60 65,67 61,69 50,69 47.8,66 47.8,28" fill="#fff" fill-opacity="0.83" filter="url(#bl5)"/></g></g><circle cx="55.86" cy="11" r="1.05" fill="#000"/><circle cx="100.72" cy="11" r="1.05" fill="#000"/><circle cx="33.43" cy="22.21" r="1.05" fill="#000"/><circle cx="123.15" cy="22.21" r="1.05" fill="#000"/><circle cx="55.86" cy="33.42" r="1.05" fill="#000"/><circle cx="100.72" cy="33.42" r="1.05" fill="#000"/><circle cx="78.29" cy="44.63" r="1.05" fill="#000"/><circle cx="123.15" cy="44.63" r="1.05" fill="#000"/><circle cx="11" cy="55.84" r="1.05" fill="#000"/><circle cx="55.86" cy="55.84" r="1.05" fill="#000"/><circle cx="145.58" cy="55.84" r="1.05" fill="#000"/><circle cx="33.43" cy="67.05" r="1.05" fill="#000"/><circle cx="123.15" cy="67.05" r="1.05" fill="#000"/><circle cx="11" cy="78.26" r="1.05" fill="#000"/><circle cx="145.58" cy="78.26" r="1.05" fill="#000"/><circle cx="33.43" cy="89.47" r="1.05" fill="#000"/><circle cx="78.29" cy="89.47" r="1.05" fill="#000"/><circle cx="55.86" cy="100.68" r="1.05" fill="#000"/><circle cx="100.72" cy="100.68" r="1.05" fill="#000"/><circle cx="55.86" cy="123.1" r="1.05" fill="#000"/><circle cx="100.72" cy="123.1" r="1.05" fill="#000"/><polygon points="35,31.2 37.16,37.83 44.13,37.83 38.49,41.93 40.64,48.57 35,44.47 29.36,48.57 31.51,41.93 25.87,37.83 32.84,37.83" fill="#5fd6fc" stroke="#0b8a12" stroke-width="1.4"/></g>
<g transform="translate(51.9 487.2)"><g clip-path="url(#cp_r2c1)"><g filter="url(#cm)"><rect x="-30" y="-30" width="216.1" height="193.6" fill="#000"/><polygon points="66.47,-2.29 110.02,-2.29 111.16,41.26 100.85,51.57 87.1,57.3 75.64,59.59 68.76,57.3 68.76,22.92" fill="#fff" fill-opacity="0.11" filter="url(#bl4_5)"/><polygon points="44.69,-2.29 74.49,-2.29 75.64,13.75 73.34,25.21 68.76,27.5 57.3,22.92 45.84,22.92" fill="#fff" fill-opacity="0.18" filter="url(#bl4)"/><ellipse cx="53.86" cy="5.73" rx="8.02" ry="9.17" fill="#fff" fill-opacity="0.05" filter="url(#bl4)"/><polygon points="-4,45 5,40 12,36 18,36 24,42 26,52 24,62 20,68 -4,68" fill="#fff" fill-opacity="0.23" filter="url(#bl4)"/><polygon points="22,50 34,56 44,62 46,72 38,74 26,70 20,62" fill="#fff" fill-opacity="0.1" filter="url(#bl4)"/><polygon points="47.5,22 55,20.5 64.5,22.5 67,30 66.5,45 68,58 68.5,66 64,71 50,71.5 45,67 45,57 46,34" fill="#fff" fill-opacity="0.6" filter="url(#bl3_5)"/><polygon points="58,65 68,65 76,72 82,78 84,86 76,87 66,79" fill="#fff" fill-opacity="0.42" filter="url(#bl4)"/><polygon points="73,80 79,78 83,83 85,92 84,101 80,105 76,103 73,96 72,87" fill="#fff" fill-opacity="0.47" filter="url(#bl3_5)"/><polygon points="-4,66 10,65 18,68 21,76 21,86 17,91 8,92 -4,91" fill="#fff" fill-opacity="0.43" filter="url(#bl3_5)"/></g></g><circle cx="55.86" cy="11" r="1.05" fill="#000"/><circle cx="100.72" cy="11" r="1.05" fill="#000"/><circle cx="33.43" cy="22.21" r="1.05" fill="#000"/><circle cx="123.15" cy="22.21" r="1.05" fill="#000"/><circle cx="55.86" cy="33.42" r="1.05" fill="#000"/><circle cx="100.72" cy="33.42" r="1.05" fill="#000"/><circle cx="78.29" cy="44.63" r="1.05" fill="#000"/><circle cx="123.15" cy="44.63" r="1.05" fill="#000"/><circle cx="11" cy="55.84" r="1.05" fill="#000"/><circle cx="55.86" cy="55.84" r="1.05" fill="#000"/><circle cx="145.58" cy="55.84" r="1.05" fill="#000"/><circle cx="33.43" cy="67.05" r="1.05" fill="#000"/><circle cx="123.15" cy="67.05" r="1.05" fill="#000"/><circle cx="11" cy="78.26" r="1.05" fill="#000"/><circle cx="145.58" cy="78.26" r="1.05" fill="#000"/><circle cx="33.43" cy="89.47" r="1.05" fill="#000"/><circle cx="78.29" cy="89.47" r="1.05" fill="#000"/><circle cx="55.86" cy="100.68" r="1.05" fill="#000"/><circle cx="100.72" cy="100.68" r="1.05" fill="#000"/><circle cx="55.86" cy="123.1" r="1.05" fill="#000"/><circle cx="100.72" cy="123.1" r="1.05" fill="#000"/><polygon points="35,31.2 37.16,37.83 44.13,37.83 38.49,41.93 40.64,48.57 35,44.47 29.36,48.57 31.51,41.93 25.87,37.83 32.84,37.83" fill="#5fd6fc" stroke="#0b8a12" stroke-width="1.4"/></g>
<g transform="translate(51.9 629)"><g clip-path="url(#cp_r3c1)"><g filter="url(#cm)"><rect x="-30" y="-30" width="217" height="193.7" fill="#000"/><polygon points="112.31,34.38 128.35,32.09 135.23,38.96 137.52,52.72 142.1,66.47 159.29,66.47 159.29,89.39 137.52,91.68 123.77,93.97 112.31,89.39 110.02,75.64 107.72,61.88 112.31,52.72" fill="#fff" fill-opacity="0.11" filter="url(#bl4_5)"/><polygon points="68,46 100,44 112,42 116,52 104,57 90,57 78,60 68,58" fill="#fff" fill-opacity="0.1" filter="url(#bl4)"/><ellipse cx="123" cy="67" rx="7.5" ry="10.5" fill="#fff" fill-opacity="0.4" filter="url(#bl3_5)"/><polygon points="-2.29,45.84 9.17,38.96 17.19,35.53 22.92,38.96 26.36,48.13 36.67,49.28 44.69,41.26 45.84,22.92 44.69,-2.29 68.76,-2.29 68.76,22.92 68.76,36.67 66.47,45.84 68.76,59.59 77.93,58.45 83.66,61.88 87.1,73.34 88.24,96.26 82.51,105.43 71.05,110.02 57.3,112.31 48.13,112.31 43.55,105.43 34.38,100.85 22.92,98.56 11.46,96.26 -2.29,92.83" fill="#fff" fill-opacity="0.57" filter="url(#bl3_5)"/><polygon points="64,-5 112,-5 113,22 110,32 104,40 96,44 88,46 84,40 78,36 72,38 68,45 64,50" fill="#fff" fill-opacity="0.31" filter="url(#bl3_5)"/><ellipse cx="101" cy="12" rx="7" ry="16" fill="#fff" fill-opacity="0.23" filter="url(#bl3_5)"/><polygon points="96,20 112,20 113,34 112,48 108,56 100,57 95,52 93,40" fill="#fff" fill-opacity="0.25" filter="url(#bl3_5)"/><polygon points="106,48 114,50 121,56 119,62 111,60 106,55" fill="#fff" fill-opacity="0.2" filter="url(#bl3_5)"/><ellipse cx="75" cy="14" rx="10" ry="11" fill="#000" fill-opacity="0.3" filter="url(#bl4_5)"/><ellipse cx="78.5" cy="44" rx="6.5" ry="6.5" fill="#000" fill-opacity="0.8" filter="url(#bl4)"/><ellipse cx="78.5" cy="44" rx="9" ry="9" fill="#fff" fill-opacity="0.05" filter="url(#bl4)"/><ellipse cx="32.09" cy="80.22" rx="7.79" ry="11" fill="#000" fill-opacity="0.7" filter="url(#bl6)"/><ellipse cx="55.01" cy="89.85" rx="12.61" ry="9.17" fill="#000" fill-opacity="0.72" filter="url(#bl6)"/></g></g><circle cx="55.86" cy="11" r="1.05" fill="#000"/><circle cx="100.72" cy="11" r="1.05" fill="#000"/><circle cx="33.43" cy="22.21" r="1.05" fill="#000"/><circle cx="123.15" cy="22.21" r="1.05" fill="#000"/><circle cx="55.86" cy="33.42" r="1.05" fill="#000"/><circle cx="100.72" cy="33.42" r="1.05" fill="#000"/><circle cx="78.29" cy="44.63" r="1.05" fill="#000"/><circle cx="123.15" cy="44.63" r="1.05" fill="#000"/><circle cx="11" cy="55.84" r="1.05" fill="#000"/><circle cx="55.86" cy="55.84" r="1.05" fill="#000"/><circle cx="145.58" cy="55.84" r="1.05" fill="#000"/><circle cx="33.43" cy="67.05" r="1.05" fill="#000"/><circle cx="123.15" cy="67.05" r="1.05" fill="#000"/><circle cx="11" cy="78.26" r="1.05" fill="#000"/><circle cx="145.58" cy="78.26" r="1.05" fill="#000"/><circle cx="33.43" cy="89.47" r="1.05" fill="#000"/><circle cx="78.29" cy="89.47" r="1.05" fill="#000"/><circle cx="55.86" cy="100.68" r="1.05" fill="#000"/><circle cx="100.72" cy="100.68" r="1.05" fill="#000"/><circle cx="55.86" cy="123.1" r="1.05" fill="#000"/><circle cx="100.72" cy="123.1" r="1.05" fill="#000"/><polygon points="35,31.2 37.16,37.83 44.13,37.83 38.49,41.93 40.64,48.57 35,44.47 29.36,48.57 31.51,41.93 25.87,37.83 32.84,37.83" fill="#5fd6fc" stroke="#0b8a12" stroke-width="1.4"/></g>
<g transform="translate(222.9 345)"><g clip-path="url(#cp_r1c2)"><g filter="url(#cm)"><rect x="-30" y="-30" width="217" height="193.9" fill="#000"/><polygon points="45.84,-2.29 73.34,-2.29 73.34,13.75 77.93,22.92 91.68,25.21 103.14,26.36 108.87,32.09 107.72,40.11 100.85,43.55 91.68,40.11 77.93,36.67 71.05,38.96 68.76,43.55 73.34,52.72 75.64,61.88 73.34,73.34 66.47,82.51 55.01,85.95 41.26,84.8 29.8,83.66 25.21,87.1 22.92,96.26 16.04,96.26 9.17,91.68 -2.29,89.39 -2.29,45.84 9.17,42.4 18.34,41.26 25.21,43.55 36.67,45.84 45.84,41.26 46.99,29.8 45.84,13.75" fill="#fff" fill-opacity="0.1" filter="url(#bl4_5)"/><ellipse cx="100.85" cy="34.38" rx="5.04" ry="5.04" fill="#fff" fill-opacity="0.03" filter="url(#bl3)"/><ellipse cx="52.03" cy="25.9" rx="8.02" ry="10.08" fill="#fff" fill-opacity="0.04" filter="url(#bl4)"/><polygon points="22,74.03 24.98,57.07 35.98,52.03 44.92,44.01 52.95,41.49 61.88,44.01 68.07,49.97 68.99,60.05 66.93,69.91 60.05,76.09 38.05,76.55 24.98,76.09" fill="#fff" fill-opacity="0.1" filter="url(#bl4)"/><ellipse cx="55.92" cy="53.17" rx="6.88" ry="6.88" fill="#fff" fill-opacity="0.09" filter="url(#bl4)"/><ellipse cx="34.38" cy="66.93" rx="7.33" ry="5.96" fill="#fff" fill-opacity="0.07" filter="url(#bl4)"/></g></g><circle cx="55.86" cy="11" r="1.05" fill="#000"/><circle cx="100.72" cy="11" r="1.05" fill="#000"/><circle cx="33.43" cy="22.21" r="1.05" fill="#000"/><circle cx="123.15" cy="22.21" r="1.05" fill="#000"/><circle cx="55.86" cy="33.42" r="1.05" fill="#000"/><circle cx="100.72" cy="33.42" r="1.05" fill="#000"/><circle cx="78.29" cy="44.63" r="1.05" fill="#000"/><circle cx="123.15" cy="44.63" r="1.05" fill="#000"/><circle cx="11" cy="55.84" r="1.05" fill="#000"/><circle cx="55.86" cy="55.84" r="1.05" fill="#000"/><circle cx="145.58" cy="55.84" r="1.05" fill="#000"/><circle cx="33.43" cy="67.05" r="1.05" fill="#000"/><circle cx="123.15" cy="67.05" r="1.05" fill="#000"/><circle cx="11" cy="78.26" r="1.05" fill="#000"/><circle cx="145.58" cy="78.26" r="1.05" fill="#000"/><circle cx="33.43" cy="89.47" r="1.05" fill="#000"/><circle cx="78.29" cy="89.47" r="1.05" fill="#000"/><circle cx="55.86" cy="100.68" r="1.05" fill="#000"/><circle cx="100.72" cy="100.68" r="1.05" fill="#000"/><circle cx="55.86" cy="123.1" r="1.05" fill="#000"/><circle cx="100.72" cy="123.1" r="1.05" fill="#000"/><polygon points="35,31.2 37.16,37.83 44.13,37.83 38.49,41.93 40.64,48.57 35,44.47 29.36,48.57 31.51,41.93 25.87,37.83 32.84,37.83" fill="#5fd6fc" stroke="#0b8a12" stroke-width="1.4"/></g>
<g transform="translate(223.2 487.1)"><g clip-path="url(#cp_r2c2)"><g filter="url(#cm)"><rect x="-30" y="-30" width="217.3" height="194.8" fill="#000"/><polygon points="45.84,-2.29 77.93,-2.29 77.93,18.34 73.34,32.09 68.76,41.26 71.05,52.72 75.64,64.18 77.93,75.64 71.05,82.51 57.3,84.8 45.84,82.51 34.38,82.51 22.92,84.8 21.77,96.26 13.75,97.41 6.88,91.68 -2.29,89.39 -2.29,40.11 13.75,34.38 22.92,36.67 29.8,45.84 41.26,45.84 45.84,32.09" fill="#fff" fill-opacity="0.1" filter="url(#bl4_5)"/><ellipse cx="58.45" cy="16.04" rx="10.31" ry="13.75" fill="#fff" fill-opacity="0.04" filter="url(#bl4)"/><polygon points="-4,50 10,46 20,52 30,60 42,56 52,47 62,48 70,56 70,68 62,75 40,77 25,76 20,82 22,92 14,96 4,95 -4,92" fill="#fff" fill-opacity="0.07" filter="url(#bl4)"/><ellipse cx="5" cy="55.5" rx="12" ry="9" fill="#fff" fill-opacity="0.11" filter="url(#bl4)"/><ellipse cx="57" cy="54" rx="10" ry="10" fill="#fff" fill-opacity="0.11" filter="url(#bl4)"/></g></g><circle cx="55.86" cy="11" r="1.05" fill="#000"/><circle cx="100.72" cy="11" r="1.05" fill="#000"/><circle cx="33.43" cy="22.21" r="1.05" fill="#000"/><circle cx="123.15" cy="22.21" r="1.05" fill="#000"/><circle cx="55.86" cy="33.42" r="1.05" fill="#000"/><circle cx="100.72" cy="33.42" r="1.05" fill="#000"/><circle cx="78.29" cy="44.63" r="1.05" fill="#000"/><circle cx="123.15" cy="44.63" r="1.05" fill="#000"/><circle cx="11" cy="55.84" r="1.05" fill="#000"/><circle cx="55.86" cy="55.84" r="1.05" fill="#000"/><circle cx="145.58" cy="55.84" r="1.05" fill="#000"/><circle cx="33.43" cy="67.05" r="1.05" fill="#000"/><circle cx="123.15" cy="67.05" r="1.05" fill="#000"/><circle cx="11" cy="78.26" r="1.05" fill="#000"/><circle cx="145.58" cy="78.26" r="1.05" fill="#000"/><circle cx="33.43" cy="89.47" r="1.05" fill="#000"/><circle cx="78.29" cy="89.47" r="1.05" fill="#000"/><circle cx="55.86" cy="100.68" r="1.05" fill="#000"/><circle cx="100.72" cy="100.68" r="1.05" fill="#000"/><circle cx="55.86" cy="123.1" r="1.05" fill="#000"/><circle cx="100.72" cy="123.1" r="1.05" fill="#000"/><polygon points="35,31.2 37.16,37.83 44.13,37.83 38.49,41.93 40.64,48.57 35,44.47 29.36,48.57 31.51,41.93 25.87,37.83 32.84,37.83" fill="#5fd6fc" stroke="#0b8a12" stroke-width="1.4"/></g>
<g transform="translate(222.9 629)"><g clip-path="url(#cp_r3c2)"><g filter="url(#cm)"><rect x="-30" y="-30" width="217" height="194.2" fill="#000"/><polygon points="44.69,-2.29 112.31,-2.29 113.45,34.38 110.02,50.42 91.68,55.01 75.64,57.3 73.34,75.64 75.64,87.1 82.51,98.56 75.64,100.85 68.76,89.39 57.3,84.8 45.84,87.1 43.55,96.26 29.8,97.41 18.34,96.26 9.17,91.68 -2.29,89.39 -2.29,41.26 13.75,34.38 22.92,38.96 36.67,45.84 43.55,38.96 44.69,22.92" fill="#fff" fill-opacity="0.1" filter="url(#bl4_5)"/><ellipse cx="100.85" cy="32.09" rx="6.88" ry="8.02" fill="#fff" fill-opacity="0.05" filter="url(#bl4)"/><ellipse cx="123.77" cy="67.61" rx="6.88" ry="10.31" fill="#fff" fill-opacity="0.09" filter="url(#bl4)"/><polygon points="48.13,-2.29 66.47,-2.29 66.93,34.38 67.61,45.84 68.76,59.59 66.47,73.34 55.01,76.78 41.26,75.64 27.5,76.78 13.75,76.78 -2.29,75.64 -2.29,49.28 11.46,45.84 25.21,50.42 36.67,52.72 46.99,48.13 46.99,22.92" fill="#fff" fill-opacity="0.05" filter="url(#bl4_5)"/><polygon points="49.28,-2.29 64.18,-2.29 64.18,34.38 65.32,68.76 49.28,68.76 48.59,34.38" fill="#fff" fill-opacity="0.04" filter="url(#bl4_5)"/><ellipse cx="9.17" cy="57.3" rx="11.46" ry="9.17" fill="#fff" fill-opacity="0.04" filter="url(#bl5)"/><ellipse cx="76.78" cy="43.55" rx="5.73" ry="6.88" fill="#000" fill-opacity="0.6" filter="url(#bl4)"/><ellipse cx="33.69" cy="88.24" rx="5.73" ry="5.73" fill="#000" fill-opacity="0.4" filter="url(#bl4)"/></g></g><circle cx="55.86" cy="11" r="1.05" fill="#000"/><circle cx="100.72" cy="11" r="1.05" fill="#000"/><circle cx="33.43" cy="22.21" r="1.05" fill="#000"/><circle cx="123.15" cy="22.21" r="1.05" fill="#000"/><circle cx="55.86" cy="33.42" r="1.05" fill="#000"/><circle cx="100.72" cy="33.42" r="1.05" fill="#000"/><circle cx="78.29" cy="44.63" r="1.05" fill="#000"/><circle cx="123.15" cy="44.63" r="1.05" fill="#000"/><circle cx="11" cy="55.84" r="1.05" fill="#000"/><circle cx="55.86" cy="55.84" r="1.05" fill="#000"/><circle cx="145.58" cy="55.84" r="1.05" fill="#000"/><circle cx="33.43" cy="67.05" r="1.05" fill="#000"/><circle cx="123.15" cy="67.05" r="1.05" fill="#000"/><circle cx="11" cy="78.26" r="1.05" fill="#000"/><circle cx="145.58" cy="78.26" r="1.05" fill="#000"/><circle cx="33.43" cy="89.47" r="1.05" fill="#000"/><circle cx="78.29" cy="89.47" r="1.05" fill="#000"/><circle cx="55.86" cy="100.68" r="1.05" fill="#000"/><circle cx="100.72" cy="100.68" r="1.05" fill="#000"/><circle cx="55.86" cy="123.1" r="1.05" fill="#000"/><circle cx="100.72" cy="123.1" r="1.05" fill="#000"/><polygon points="35,31.2 37.16,37.83 44.13,37.83 38.49,41.93 40.64,48.57 35,44.47 29.36,48.57 31.51,41.93 25.87,37.83 32.84,37.83" fill="#5fd6fc" stroke="#0b8a12" stroke-width="1.4"/></g>
<g transform="translate(467.7 345.1)"><g clip-path="url(#cp_r1c3)"><g filter="url(#cm)"><rect x="-30" y="-30" width="217.2" height="194.3" fill="#000"/><polygon points="-2.29,46.99 13.75,45.84 27.5,43.55 36.67,42.4 38.96,52.72 22.92,56.15 -2.29,55.01" fill="#fff" fill-opacity="0.1" filter="url(#bl4)"/><polygon points="40.11,34.38 45.84,26.36 57.3,22.23 75.64,20.17 84.8,18.79 96.26,21.09 107.72,24.75 112.31,32.09 124.91,34.38 134.08,37.82 135.69,45.84 132.94,53.86 124.91,56.84 114.6,57.76 110.02,62.34 100.85,66.93 92.83,72.89 84.8,77.47 75.64,80.68 68.76,82.97 63.03,86.64 53.86,88.93 45.84,89.85 41.26,97.41 33.23,100.85 26.36,97.41 24.75,90.53 13.75,89.85 -2.29,89.85 -2.29,69.91 11.46,69.91 21.77,68.76 25.67,76.78 32.09,80.22 45.84,77.93 55.01,72.2 61.88,66.01 66.47,57.3 65.32,49.28 59.59,44.69 52.72,43.55 45.84,45.84 41.26,48.13 37.82,44.69" fill="#fff" fill-opacity="0.53" filter="url(#bl3_5)"/><ellipse cx="100.85" cy="39.42" rx="6.42" ry="6.42" fill="#000" fill-opacity="0.88" filter="url(#bl4)"/><ellipse cx="77.93" cy="13.75" rx="6.88" ry="4.58" fill="#fff" fill-opacity="0.08" filter="url(#bl4)"/><ellipse cx="56.15" cy="55.7" rx="7.33" ry="7.33" fill="#fff" fill-opacity="0.18" filter="url(#bl4)"/><ellipse cx="37.82" cy="66.47" rx="10.31" ry="8.02" fill="#fff" fill-opacity="0.1" filter="url(#bl4_5)"/></g></g><circle cx="55.86" cy="11" r="1.05" fill="#000"/><circle cx="100.72" cy="11" r="1.05" fill="#000"/><circle cx="33.43" cy="22.21" r="1.05" fill="#000"/><circle cx="123.15" cy="22.21" r="1.05" fill="#000"/><circle cx="55.86" cy="33.42" r="1.05" fill="#000"/><circle cx="100.72" cy="33.42" r="1.05" fill="#000"/><circle cx="78.29" cy="44.63" r="1.05" fill="#000"/><circle cx="123.15" cy="44.63" r="1.05" fill="#000"/><circle cx="11" cy="55.84" r="1.05" fill="#000"/><circle cx="55.86" cy="55.84" r="1.05" fill="#000"/><circle cx="145.58" cy="55.84" r="1.05" fill="#000"/><circle cx="33.43" cy="67.05" r="1.05" fill="#000"/><circle cx="123.15" cy="67.05" r="1.05" fill="#000"/><circle cx="11" cy="78.26" r="1.05" fill="#000"/><circle cx="145.58" cy="78.26" r="1.05" fill="#000"/><circle cx="33.43" cy="89.47" r="1.05" fill="#000"/><circle cx="78.29" cy="89.47" r="1.05" fill="#000"/><circle cx="55.86" cy="100.68" r="1.05" fill="#000"/><circle cx="100.72" cy="100.68" r="1.05" fill="#000"/><circle cx="55.86" cy="123.1" r="1.05" fill="#000"/><circle cx="100.72" cy="123.1" r="1.05" fill="#000"/><polygon points="35,31.2 37.16,37.83 44.13,37.83 38.49,41.93 40.64,48.57 35,44.47 29.36,48.57 31.51,41.93 25.87,37.83 32.84,37.83" fill="#5fd6fc" stroke="#0b8a12" stroke-width="1.4"/></g>
<g transform="translate(467.7 488)"><g clip-path="url(#cp_r2c3)"><g filter="url(#cm)"><rect x="-30" y="-30" width="217.2" height="193.7" fill="#000"/><polygon points="22.92,52.72 25.21,34.38 34.38,20.63 43.55,13.75 45.84,52.72" fill="#fff" fill-opacity="0.1" filter="url(#bl4)"/><polygon points="44.69,-2.29 113.45,-2.29 113.45,41.26 107.72,45.84 103.14,49.28 100.85,59.59 96.26,66.47 91.68,71.05 89.39,77.93 90.53,91.68 88.24,98.56 82.51,101.99 73.34,101.99 67.61,97.41 65.32,90.53 61.88,87.1 52.72,88.24 41.26,88.24 22.92,89.39 -2.29,90.53 -2.29,66.47 18.34,66.47 22.92,71.05 25.21,75.64 32.09,79.07 41.26,77.93 45.84,73.34 48.13,66.47 45.84,57.3 44.69,50.42 41.26,45.84 40.11,36.67 43.55,25.21 45.84,13.75" fill="#fff" fill-opacity="0.53" filter="url(#bl3_5)"/><ellipse cx="56.84" cy="58.45" rx="10.31" ry="14.21" fill="#000" fill-opacity="0.72" filter="url(#bl5)"/><ellipse cx="60.05" cy="10.31" rx="14.9" ry="13.75" fill="#000" fill-opacity="0.8" filter="url(#bl5)"/><ellipse cx="38.96" cy="82.97" rx="13.75" ry="5.73" fill="#000" fill-opacity="0.3" filter="url(#bl4)"/></g></g><circle cx="55.86" cy="11" r="1.05" fill="#000"/><circle cx="100.72" cy="11" r="1.05" fill="#000"/><circle cx="33.43" cy="22.21" r="1.05" fill="#000"/><circle cx="123.15" cy="22.21" r="1.05" fill="#000"/><circle cx="55.86" cy="33.42" r="1.05" fill="#000"/><circle cx="100.72" cy="33.42" r="1.05" fill="#000"/><circle cx="78.29" cy="44.63" r="1.05" fill="#000"/><circle cx="123.15" cy="44.63" r="1.05" fill="#000"/><circle cx="11" cy="55.84" r="1.05" fill="#000"/><circle cx="55.86" cy="55.84" r="1.05" fill="#000"/><circle cx="145.58" cy="55.84" r="1.05" fill="#000"/><circle cx="33.43" cy="67.05" r="1.05" fill="#000"/><circle cx="123.15" cy="67.05" r="1.05" fill="#000"/><circle cx="11" cy="78.26" r="1.05" fill="#000"/><circle cx="145.58" cy="78.26" r="1.05" fill="#000"/><circle cx="33.43" cy="89.47" r="1.05" fill="#000"/><circle cx="78.29" cy="89.47" r="1.05" fill="#000"/><circle cx="55.86" cy="100.68" r="1.05" fill="#000"/><circle cx="100.72" cy="100.68" r="1.05" fill="#000"/><circle cx="55.86" cy="123.1" r="1.05" fill="#000"/><circle cx="100.72" cy="123.1" r="1.05" fill="#000"/><polygon points="35,31.2 37.16,37.83 44.13,37.83 38.49,41.93 40.64,48.57 35,44.47 29.36,48.57 31.51,41.93 25.87,37.83 32.84,37.83" fill="#5fd6fc" stroke="#0b8a12" stroke-width="1.4"/></g>
<g transform="translate(467.7 629.3)"><g clip-path="url(#cp_r3c3)"><g filter="url(#cm)"><rect x="-30" y="-30" width="217.2" height="194.3" fill="#000"/><polygon points="44.69,-2.29 112.31,-2.29 112.31,18.34 119.18,22.92 128.35,29.8 132.94,38.96 134.08,48.13 139.81,52.72 146.69,59.59 153.56,66.47 159.29,67.61 159.29,88.24 137.52,89.39 119.18,90.53 114.6,93.97 110.02,100.85 100.85,103.14 71.05,103.14 66.47,107.72 61.88,113.45 50.42,113.45 44.69,107.72 42.4,103.14 29.8,101.99 22.92,98.56 16.04,91.68 -2.29,91.68 -2.29,45.84 4.58,43.55 11.46,36.67 20.63,27.5 29.8,18.34 38.96,9.17" fill="#fff" fill-opacity="0.57" filter="url(#bl3_5)"/><polygon points="44.69,-4.58 75.64,-4.58 75.64,13.75 87.1,22.92 107.72,25.21 112.31,36.67 103.14,45.84 87.1,53.86 73.34,65.32 57.3,69.91 41.26,75.64 22.92,73.34 -4.58,71.05 -4.58,43.55" fill="#000" fill-opacity="0.47" filter="url(#bl5)"/><ellipse cx="57.3" cy="12.61" rx="8.71" ry="9.17" fill="#000" fill-opacity="0.4" filter="url(#bl5)"/><ellipse cx="100.85" cy="32.09" rx="6.88" ry="6.88" fill="#000" fill-opacity="0.3" filter="url(#bl5)"/><ellipse cx="56.15" cy="56.15" rx="8.25" ry="8.25" fill="#000" fill-opacity="0.3" filter="url(#bl5)"/><ellipse cx="79.07" cy="45.84" rx="6.42" ry="6.42" fill="#000" fill-opacity="0.25" filter="url(#bl5)"/><ellipse cx="34.38" cy="68.76" rx="6.42" ry="6.42" fill="#000" fill-opacity="0.3" filter="url(#bl5)"/><ellipse cx="11.46" cy="55.01" rx="6.88" ry="6.88" fill="#000" fill-opacity="0.3" filter="url(#bl5)"/><ellipse cx="34.38" cy="22.92" rx="6.42" ry="6.42" fill="#000" fill-opacity="0.15" filter="url(#bl5)"/><ellipse cx="56.15" cy="34.38" rx="5.73" ry="5.73" fill="#fff" fill-opacity="0.1" filter="url(#bl4)"/></g></g><circle cx="55.86" cy="11" r="1.05" fill="#000"/><circle cx="100.72" cy="11" r="1.05" fill="#000"/><circle cx="33.43" cy="22.21" r="1.05" fill="#000"/><circle cx="123.15" cy="22.21" r="1.05" fill="#000"/><circle cx="55.86" cy="33.42" r="1.05" fill="#000"/><circle cx="100.72" cy="33.42" r="1.05" fill="#000"/><circle cx="78.29" cy="44.63" r="1.05" fill="#000"/><circle cx="123.15" cy="44.63" r="1.05" fill="#000"/><circle cx="11" cy="55.84" r="1.05" fill="#000"/><circle cx="55.86" cy="55.84" r="1.05" fill="#000"/><circle cx="145.58" cy="55.84" r="1.05" fill="#000"/><circle cx="33.43" cy="67.05" r="1.05" fill="#000"/><circle cx="123.15" cy="67.05" r="1.05" fill="#000"/><circle cx="11" cy="78.26" r="1.05" fill="#000"/><circle cx="145.58" cy="78.26" r="1.05" fill="#000"/><circle cx="33.43" cy="89.47" r="1.05" fill="#000"/><circle cx="78.29" cy="89.47" r="1.05" fill="#000"/><circle cx="55.86" cy="100.68" r="1.05" fill="#000"/><circle cx="100.72" cy="100.68" r="1.05" fill="#000"/><circle cx="55.86" cy="123.1" r="1.05" fill="#000"/><circle cx="100.72" cy="123.1" r="1.05" fill="#000"/><polygon points="35,31.2 37.16,37.83 44.13,37.83 38.49,41.93 40.64,48.57 35,44.47 29.36,48.57 31.51,41.93 25.87,37.83 32.84,37.83" fill="#5fd6fc" stroke="#0b8a12" stroke-width="1.4"/></g>
<rect x="386.6" y="355.2" width="8.9" height="385.1" fill="url(#cbg)" stroke="#333" stroke-width="0.9"/>
<line x1="395.5" y1="740.3" x2="397.9" y2="740.3" stroke="#333" stroke-width="1"/>
<text x="402.1" y="744.9" font-size="13" font-weight="bold" text-anchor="start" fill="#000" stroke="#000" stroke-width="0.25">10</text>
<line x1="395.5" y1="663.28" x2="397.9" y2="663.28" stroke="#333" stroke-width="1"/>
<text x="402.1" y="667.88" font-size="13" font-weight="bold" text-anchor="start" fill="#000" stroke="#000" stroke-width="0.25">20</text>
<line x1="395.5" y1="586.26" x2="397.9" y2="586.26" stroke="#333" stroke-width="1"/>
<text x="402.1" y="590.86" font-size="13" font-weight="bold" text-anchor="start" fill="#000" stroke="#000" stroke-width="0.25">30</text>
<line x1="395.5" y1="509.24" x2="397.9" y2="509.24" stroke="#333" stroke-width="1"/>
<text x="402.1" y="513.84" font-size="13" font-weight="bold" text-anchor="start" fill="#000" stroke="#000" stroke-width="0.25">40</text>
<line x1="395.5" y1="432.22" x2="397.9" y2="432.22" stroke="#333" stroke-width="1"/>
<text x="402.1" y="436.82" font-size="13" font-weight="bold" text-anchor="start" fill="#000" stroke="#000" stroke-width="0.25">50</text>
<line x1="395.5" y1="355.2" x2="397.9" y2="355.2" stroke="#333" stroke-width="1"/>
<text x="402.1" y="359.8" font-size="13" font-weight="bold" text-anchor="start" fill="#000" stroke="#000" stroke-width="0.25">60</text>
<text x="427.6" y="553.4" font-size="13" font-weight="bold" text-anchor="middle" fill="#000" stroke="#000" stroke-width="0.25" transform="rotate(90 427.6 553.4)">Mean firing rate [Hz]</text>
<rect x="633.6" y="356.3" width="8.9" height="385" fill="url(#cbg)" stroke="#333" stroke-width="0.9"/>
<line x1="642.5" y1="741.3" x2="644.9" y2="741.3" stroke="#333" stroke-width="1"/>
<text x="649.1" y="745.9" font-size="13" font-weight="bold" text-anchor="start" fill="#000" stroke="#000" stroke-width="0.25">10</text>
<line x1="642.5" y1="664.3" x2="644.9" y2="664.3" stroke="#333" stroke-width="1"/>
<text x="649.1" y="668.9" font-size="13" font-weight="bold" text-anchor="start" fill="#000" stroke="#000" stroke-width="0.25">20</text>
<line x1="642.5" y1="587.3" x2="644.9" y2="587.3" stroke="#333" stroke-width="1"/>
<text x="649.1" y="591.9" font-size="13" font-weight="bold" text-anchor="start" fill="#000" stroke="#000" stroke-width="0.25">30</text>
<line x1="642.5" y1="510.3" x2="644.9" y2="510.3" stroke="#333" stroke-width="1"/>
<text x="649.1" y="514.9" font-size="13" font-weight="bold" text-anchor="start" fill="#000" stroke="#000" stroke-width="0.25">40</text>
<line x1="642.5" y1="433.3" x2="644.9" y2="433.3" stroke="#333" stroke-width="1"/>
<text x="649.1" y="437.9" font-size="13" font-weight="bold" text-anchor="start" fill="#000" stroke="#000" stroke-width="0.25">50</text>
<line x1="642.5" y1="356.3" x2="644.9" y2="356.3" stroke="#333" stroke-width="1"/>
<text x="649.1" y="360.9" font-size="13" font-weight="bold" text-anchor="start" fill="#000" stroke="#000" stroke-width="0.25">60</text>
<text x="675.2" y="553.4" font-size="13" font-weight="bold" text-anchor="middle" fill="#000" stroke="#000" stroke-width="0.25" transform="rotate(90 675.2 553.4)">Firing rate difference [Hz]</text>
<text x="46.4" y="415.3" font-size="13" font-weight="bold" text-anchor="end" fill="#000" stroke="#000" stroke-width="0.25">50 <tspan font-weight="normal">&#956;</tspan>A</text>
<text x="46.4" y="557" font-size="13" font-weight="bold" text-anchor="end" fill="#000" stroke="#000" stroke-width="0.25">80 <tspan font-weight="normal">&#956;</tspan>A</text>
<text x="46.4" y="699" font-size="13" font-weight="bold" text-anchor="end" fill="#000" stroke="#000" stroke-width="0.25">100 <tspan font-weight="normal">&#956;</tspan>A</text>
<polygon points="37.6,775 39.76,781.63 46.73,781.63 41.09,785.73 43.24,792.37 37.6,788.27 31.96,792.37 34.11,785.73 28.47,781.63 35.44,781.63" fill="#5fd6fc" stroke="#0b8a12" stroke-width="1.4"/>
<text x="55.5" y="788.9" font-size="13" font-weight="bold" text-anchor="start" fill="#000" stroke="#000" stroke-width="0.25">Stimulating electrode</text>
<rect x="592.8" y="772" width="25.2" height="3.6" fill="#000"/>
<text x="605.4" y="789.3" font-size="13" font-weight="bold" text-anchor="middle" fill="#000" stroke="#000" stroke-width="0.25">200 <tspan font-weight="normal">&#956;</tspan>m</text></svg></body></html>
